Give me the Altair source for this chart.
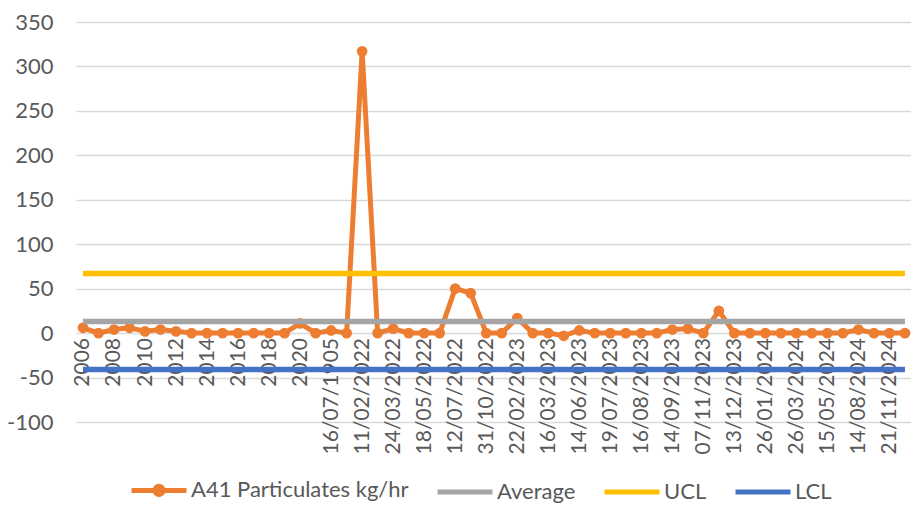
import json
import altair as alt
import pandas as pd

# ---- data ----
x_labels = ['2006', '2008', '2010', '2012', '2014', '2016', '2018', '2020',
            '16/07/1905', '11/02/2022', '24/03/2022', '18/05/2022', '12/07/2022',
            '31/10/2022', '22/02/2023', '16/03/2023', '14/06/2023', '19/07/2023',
            '16/08/2023', '14/09/2023', '07/11/2023', '13/12/2023', '26/01/2024',
            '26/03/2024', '15/05/2024', '14/08/2024', '21/11/2024']

a41_values = [6, 0, 4, 6, 2, 4, 2, 0, 0, 0,
              0, 0, 0, 0, 11, 0, 3, 0, 317, 0,
              5, 0, 0, 0, 50, 45, 0, 0, 17, 0,
              0, -3, 3, 0, 0, 0, 0, 0, 4, 5,
              0, 25, 0, 0, 0, 0, 0, 0, 0, 0,
              4, 0, 0, 0]

series_names = ["A41 Particulates kg/hr", "Average", "UCL", "LCL"]
series_colors = ["#ED7D31", "#A5A5A5", "#FFC000", "#4472C4"]
average_value = 13
ucl_value = 67
lcl_value = -41

n = len(a41_values)
a41_df = pd.DataFrame({"i": list(range(n)), "v": a41_values, "s": series_names[0]})
ref_rows = []
for name, val in zip(series_names[1:], [average_value, ucl_value, lcl_value]):
    for i in range(n):
        ref_rows.append({"i": i, "v": val, "s": name})
ref_df = pd.DataFrame(ref_rows)

FONT = "Lato"
TXT = "#595959"
FS = 22

label_expr = json.dumps(x_labels) + "[round(datum.value / 2)]"

x_enc = alt.X(
    "i:Q",
    scale=alt.Scale(domain=[-0.45, n - 1 + 0.39], nice=False, zero=False),
    axis=alt.Axis(
        values=list(range(0, n, 2)),
        labelExpr=label_expr,
        labelAngle=-90,
        labelAlign="right",
        labelBaseline="middle",
        labelPadding=4,
        labelFont=FONT,
        labelFontSize=21,
        labelColor=TXT,
        labelOverlap=False,
        labelBound=False,
        labelFlush=False,
        labelLimit=300,
        domain=False,
        ticks=False,
        grid=False,
        offset=-88.5,
        title=None,
    ),
)

y_enc = alt.Y(
    "v:Q",
    scale=alt.Scale(domain=[-100, 350], nice=False, zero=False),
    axis=alt.Axis(
        values=list(range(-100, 351, 50)),
        labelExpr="'' + datum.value",
        labelFont=FONT,
        labelFontSize=FS,
        labelColor=TXT,
        labelPadding=23,
        domain=False,
        ticks=False,
        grid=True,
        gridColor="#D9D9D9",
        gridWidth=1.5,
        title=None,
    ),
)

circle_path = ("M-1,0L1,0"
               "M-0.06,0A0.06,0.06 0 1 1 0.06,0A0.06,0.06 0 1 1 -0.06,0"
               "M-0.15,0A0.15,0.15 0 1 1 0.15,0A0.15,0.15 0 1 1 -0.15,0")
line_path = "M-1,0L1,0"
symbol_expr = f"datum.value === '{series_names[0]}' ? '{circle_path}' : '{line_path}'"

legend = alt.Legend(
    title=None,
    orient="none",
    direction="horizontal",
    legendX=53,
    legendY=438,
    padding=0,
    symbolType=alt.ExprRef(expr=symbol_expr),
    symbolSize=3025,
    symbolStrokeWidth=5,
    symbolOpacity=1,
    labelFont=FONT,
    labelFontSize=FS,
    labelColor=TXT,
    labelOffset=2,
    labelLimit=400,
    columnPadding=18,
)

color_enc = alt.Color(
    "s:N",
    scale=alt.Scale(domain=series_names, range=series_colors),
    legend=legend,
)

a41_line = alt.Chart(a41_df).mark_line(strokeWidth=5).encode(x=x_enc, y=y_enc, color=color_enc)
a41_pts = alt.Chart(a41_df).mark_point(filled=True, size=115, opacity=1).encode(
    x=x_enc, y=y_enc, color=alt.value(series_colors[0])
)
ref_lines = alt.Chart(ref_df).mark_line(strokeWidth=5.5).encode(
    x=x_enc, y=y_enc, color=color_enc, detail="s:N"
)

chart = (
    alt.layer(a41_line, a41_pts, ref_lines)
    .properties(
        width=835,
        height=400,
        autosize=alt.AutoSizeParams(type="none"),
        padding={"left": 68, "top": 14, "right": 0, "bottom": 83},
        background="white",
    )
    .configure_view(stroke=None)
)

chart.save("out.html", embed_options={"renderer": "svg", "actions": False})
